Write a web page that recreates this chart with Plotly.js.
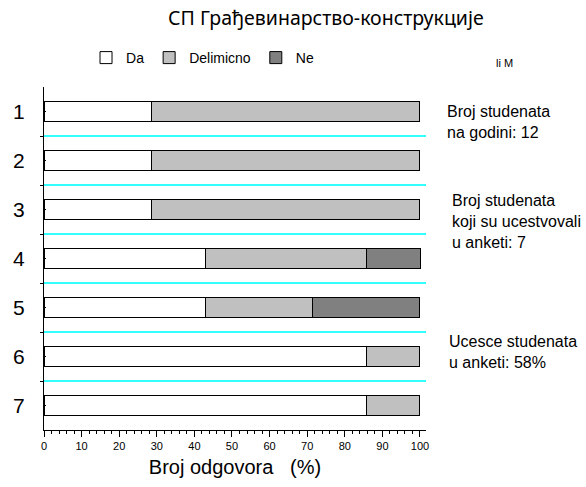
<!DOCTYPE html>
<html>
<head>
<meta charset="utf-8">
<script src="https://cdn.plot.ly/plotly-3.0.1.min.js"></script>
<style>html,body{margin:0;padding:0;background:#fff;}#chart{width:586px;height:487px;}</style>
</head>
<body>
<div id="chart"></div>
<script>
// Data (percent of 7 respondents)
const questions = [1, 2, 3, 4, 5, 6, 7];
const questionLabels = ['1', '2', '3', '4', '5', '6', '7'];
const da = [28.57, 28.57, 28.57, 42.86, 42.86, 85.71, 85.71];
const delimicno = [71.43, 71.43, 71.43, 42.86, 28.57, 14.29, 14.29];
const ne = [null, null, null, 14.29, 28.57, null, null];
const seriesNames = ['Da', 'Delimicno', 'Ne'];
const seriesColors = ['#ffffff', '#c0c0c0', '#808080'];
const boundaries = [0.5, 1.5, 2.5, 3.5, 4.5, 5.5, 6.5, 7.5];
const noteLines = [
  'Broj studenata<br>na godini: 12',
  'Broj studenata<br>koji su ucestvovali<br>u anketi: 7',
  'Ucesce studenata<br>u anketi: 58%'
];

const values = [da, delimicno, ne];
const traces = values.map((v, i) => ({
  type: 'bar',
  orientation: 'h',
  name: seriesNames[i],
  x: v,
  y: questions,
  width: 0.4,
  marker: {color: seriesColors[i], line: {color: '#000000', width: 1}},
  hoverinfo: 'x+name'
}));

const AF = 'Liberation Sans, Arial, sans-serif';
const layout = {
  width: 586, height: 487,
  margin: {l: 44, r: 160, t: 87, b: 57, autoexpand: false},
  paper_bgcolor: '#ffffff', plot_bgcolor: '#ffffff',
  barmode: 'stack',
  showlegend: true,
  legend: {
    orientation: 'h', x: 0.11, xanchor: 'left', y: (430 - 58) / 343, yanchor: 'middle',
    font: {family: AF, size: 14, color: '#000'}, traceorder: 'normal',
    bgcolor: 'rgba(0,0,0,0)'
  },
  title: {
    text: 'СП Грађевинарство-конструкције',
    font: {family: 'Noto Sans, Open Sans, sans-serif', size: 19.5, color: '#000'},
    xref: 'paper', x: 0.738, xanchor: 'center',
    yref: 'container', y: 1 - 18 / 487, yanchor: 'middle'
  },
  xaxis: {
    range: [0, 101.6], tickmode: 'linear', tick0: 0, dtick: 10,
    automargin: false,
    ticks: 'outside', ticklen: 6, tickwidth: 1, tickcolor: '#000',
    minor: {dtick: 2, tick0: 0, ticks: 'outside', ticklen: 3, tickcolor: '#000', showgrid: false},
    showline: true, linecolor: '#000', linewidth: 1,
    showgrid: false, zeroline: false,
    tickfont: {family: AF, size: 11, color: '#000'},
    title: {text: 'Broj odgovora\u00a0\u00a0\u00a0(%)', font: {family: AF, size: 20, color: '#000'}, standoff: 8}
  },
  yaxis: {
    range: [7.5, 0.5], tickmode: 'array', tickvals: questions, ticktext: questionLabels,
    automargin: false,
    ticks: 'inside', ticklen: 2, tickcolor: '#000',
    minor: {tickmode: 'array', tickvals: boundaries, ticks: 'outside', ticklen: 3, tickcolor: '#000',
            showgrid: true, gridcolor: '#33ffff', gridwidth: 2},
    showline: true, linecolor: '#000', linewidth: 1,
    showgrid: false, zeroline: false,
    ticklabelstandoff: 14,
    tickfont: {family: AF, size: 21, color: '#000'}
  },
  annotations: [
    {text: noteLines[0], xref: 'paper', yref: 'paper', x: (445 - 44) / 382, y: (430 - 122) / 343, xanchor: 'left', yanchor: 'middle', align: 'left', showarrow: false, font: {family: AF, size: 16, color: '#000'}},
    {text: noteLines[1], xref: 'paper', yref: 'paper', x: (450 - 44) / 382, y: (430 - 221) / 343, xanchor: 'left', yanchor: 'middle', align: 'left', showarrow: false, font: {family: AF, size: 16, color: '#000'}},
    {text: noteLines[2], xref: 'paper', yref: 'paper', x: (447 - 44) / 382, y: (430 - 352) / 343, xanchor: 'left', yanchor: 'middle', align: 'left', showarrow: false, font: {family: AF, size: 16, color: '#000'}},
    {text: 'li M', xref: 'paper', yref: 'paper', x: (494 - 44) / 382, y: (430 - 63) / 343, xanchor: 'left', yanchor: 'middle', showarrow: false, font: {family: AF, size: 11, color: '#000'}}
  ]
};

Plotly.newPlot('chart', traces, layout, {displayModeBar: false, staticPlot: true});
</script>
</body>
</html>
